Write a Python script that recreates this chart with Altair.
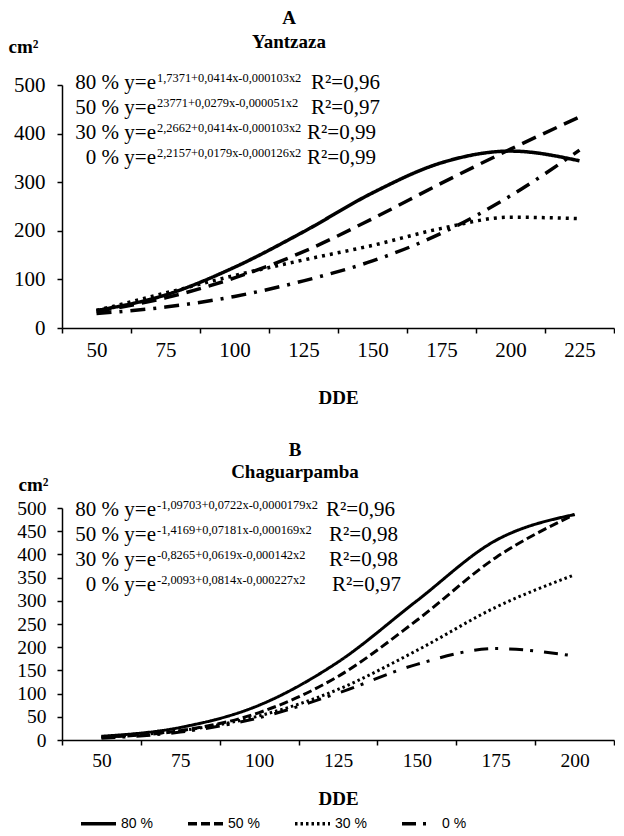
import altair as alt
import pandas as pd

SERIES = ["80 %", "50 %", "30 %", "0 %"]

# Panel A - Yantzaza
DDE_A = [50, 75, 100, 125, 150, 175, 200, 225]
A_80 = [36, 68, 125, 198, 278, 340, 364, 344]
A_50 = [34, 62, 103, 157, 225, 298, 368, 434]
A_30 = [36, 72, 108, 140, 170, 205, 228, 225]
A_0 = [30, 43, 65, 97, 138, 195, 272, 366]

# Panel B - Chaguarpamba
DDE_B = [50, 75, 100, 125, 150, 175, 200]
B_80 = [8, 27, 75, 168, 300, 430, 486]
B_50 = [6, 20, 59, 137, 258, 393, 486]
B_30 = [7, 20, 52, 109, 193, 286, 356]
B_0 = [4, 17, 48, 101, 163, 197, 181]

EQ_PREFIX = ["80 % y=e", "50 % y=e", "30 % y=e", "0 % y=e"]
EQ_A_EXP = ["1,7371+0,0414x-0,000103x2", "23771+0,0279x-0,000051x2",
            "2,2662+0,0414x-0,000103x2", "2,2157+0,0179x-0,000126x2"]
EQ_A_R2 = ["R²=0,96", "R²=0,97", "R²=0,99", "R²=0,99"]
EQ_B_EXP = ["-1,09703+0,0722x-0,0000179x2", "-1,4169+0,07181x-0,000169x2",
            "-0,8265+0,0619x-0,000142x2", "-2,0093+0,0814x-0,000227x2"]
EQ_B_R2 = ["R²=0,96", "R²=0,98", "R²=0,98", "R²=0,97"]

SERIF = "Liberation Serif"


def long_df(xs, cols):
    rows = []
    for s, vals in zip(SERIES, cols):
        for x, v in zip(xs, vals):
            rows.append({"DDE": x, "area": v, "serie": s})
    return pd.DataFrame(rows)


def txt(t, x, y, size, align="left", baseline="alphabetic", weight="normal", font=SERIF):
    return alt.Chart(pd.DataFrame({"t": [t]})).mark_text(
        font=font, fontSize=size, align=align, baseline=baseline,
        fontWeight=weight, color="black"
    ).encode(text="t:N", x=alt.value(x), y=alt.value(y))


def panel(xs, cols, dashes, ystep, label_size, label_pad, title_lines, title_cx,
          title_ys, exps, r2s, r2_x, rows_y, height, cm_x, cm_y, dde_pad,
          stroke_w, legend):
    df = long_df(xs, cols)
    lines = alt.Chart(df).mark_line(
        color="black", strokeWidth=stroke_w, interpolate="monotone"
    ).encode(
        x=alt.X("DDE:O", sort=xs,
                scale=alt.Scale(type="band", paddingInner=0, paddingOuter=0),
                axis=alt.Axis(title="DDE", labelAngle=0, tickBand="extent",
                              labelFontSize=label_size, labelPadding=6,
                              titlePadding=dde_pad)),
        y=alt.Y("area:Q", scale=alt.Scale(domain=[0, 500], nice=False),
                axis=alt.Axis(values=list(range(0, 501, ystep)), title="cm²",
                              titleAngle=0, titleX=cm_x, titleY=cm_y,
                              titleAlign="left", titleBaseline="alphabetic",
                              labelFontSize=label_size, labelPadding=label_pad)),
        strokeDash=alt.StrokeDash("serie:N", sort=SERIES,
                                  scale=alt.Scale(domain=SERIES, range=dashes),
                                  legend=legend),
    )
    layers = [lines]
    for t, y in zip(title_lines, title_ys):
        layers.append(txt(t, title_cx, y, 19, align="center", baseline="middle", weight="bold"))
    for i in range(4):
        layers.append(txt(EQ_PREFIX[i], 94, rows_y[i], 21, align="right"))
        layers.append(txt(exps[i], 95, rows_y[i] - 7, 12.4))
        layers.append(txt(r2s[i], r2_x[i], rows_y[i], 21))
    return alt.layer(*layers).properties(width=552, height=height)


chart_a = panel(
    DDE_A, [A_80, A_50, A_30, A_0],
    [[1, 0], [15, 8], [3, 5], [15, 8, 3, 8]],
    100, 21, 12, ["A", "Yantzaza"], 227, [-67, -43],
    EQ_A_EXP, EQ_A_R2, [249, 249, 245, 245], [4, 29, 54, 79],
    243, -54, -33, 28, 3.5, None,
)

legend_b = alt.Legend(
    title=None, orient="none", legendX=17, legendY=296, direction="horizontal",
    symbolType="stroke", symbolSize=1225, symbolStrokeWidth=3.5,
    symbolStrokeColor="black", labelFont="Liberation Sans", labelFontSize=14,
    labelOffset=3, columnPadding=28, gridAlign="all", labelColor="black",
)

chart_b = panel(
    DDE_B, [B_80, B_50, B_30, B_0],
    [[1, 0], [9, 4], [2.5, 3], [14, 7, 3, 11]],
    50, 19.5, 11, ["B", "Chaguarpamba"], 233, [-58, -36],
    EQ_B_EXP, EQ_B_R2, [264, 267, 267, 270], [8, 33, 58, 83],
    232, -44, -18, 20, 3, legend_b,
)

chart = alt.vconcat(chart_a, chart_b, spacing=34).resolve_scale(
    strokeDash="independent", x="independent", y="independent"
).properties(
    padding={"left": 0, "top": 1, "right": 0, "bottom": 0},
    background="white",
).configure_view(stroke=None).configure_axis(
    domainColor="black", domainWidth=1.5, tickColor="black", tickWidth=1.5,
    tickSize=5, labelFont=SERIF, labelColor="black", titleFont=SERIF,
    titleFontWeight="bold", titleFontSize=19, titleColor="black", grid=False,
)

chart.save("out.html", embed_options={"renderer": "svg", "actions": False})
